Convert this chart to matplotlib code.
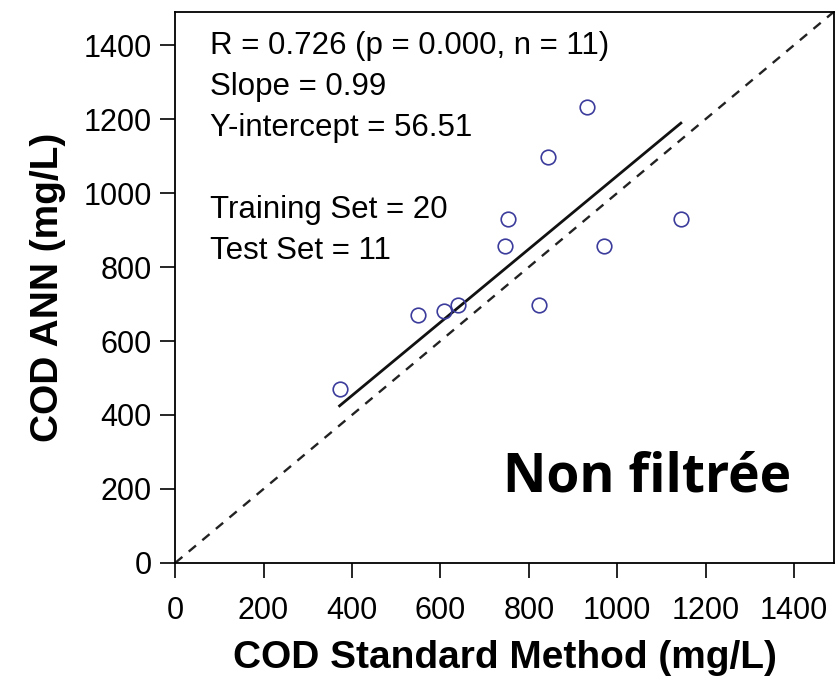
import numpy as np
import matplotlib.pyplot as plt

plt.rcParams['font.family'] = ['Liberation Sans', 'DejaVu Sans']

# COD measured by standard method vs. ANN prediction (test set)
cod_std = [372, 549, 609, 639, 747, 754, 824, 844, 932, 971, 1144]
cod_ann = [470, 670, 681, 697, 857, 930, 697, 1097, 1232, 857, 930]

slope = 0.99
intercept = 56.51
stats_text = ("R = 0.726 (p = 0.000, n = 11)\nSlope = 0.99\nY-intercept = 56.51\n\n"
              "Training Set = 20\nTest Set = 11")

fig = plt.figure(figsize=(8.38, 6.95), dpi=100)
ax = fig.add_axes([0.209, 0.19, 0.786, 0.793])

# 1:1 line
ax.plot([0, 1500], [0, 1500], color="#222222", linestyle=(0, (4, 3.5)), linewidth=1.7)
# fitted line
xf = np.array([min(cod_std), max(cod_std)])
ax.plot(xf, slope * xf + intercept, color="#111111", linewidth=2.0)
ax.plot(cod_std, cod_ann, "o", markerfacecolor="none", markeredgecolor="#3b3b9c",
        markersize=10.5, markeredgewidth=1.2)

ax.set_xlim(0, 1490)
ax.set_ylim(0, 1490)
ax.set_xticks(range(0, 1401, 200))
ax.set_yticks(range(0, 1401, 200))
ax.tick_params(direction="out", length=11, width=1.2, labelsize=22, pad=6)
ax.tick_params(axis="x", pad=13)
for s in ax.spines.values():
    s.set_linewidth(1.3)

ax.set_xlabel("COD Standard Method (mg/L)", fontsize=28, fontweight="bold", labelpad=10)
ax.set_ylabel("COD ANN (mg/L)", fontsize=28, fontweight="bold", labelpad=12)

ax.text(0.053, 0.966, stats_text, transform=ax.transAxes, fontsize=22.5,
        va="top", ha="left", linespacing=1.48)
ax.text(0.935, 0.155, "Non filtrée", transform=ax.transAxes, fontsize=38.5,
        fontweight="bold", family=["Open Sans", "DejaVu Sans"], ha="right", va="center")

fig.savefig("out.png", dpi=100)
